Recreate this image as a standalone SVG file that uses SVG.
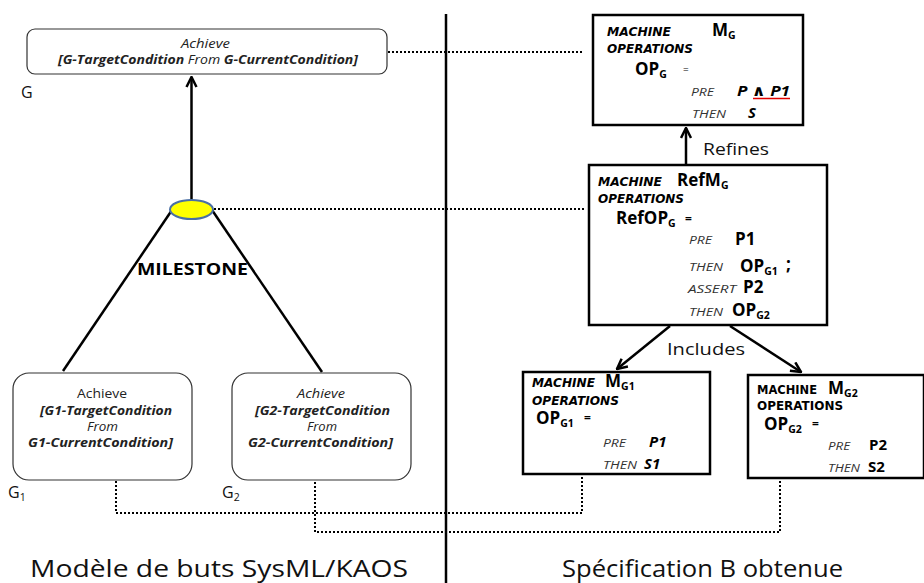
<svg xmlns="http://www.w3.org/2000/svg" width="924" height="583" viewBox="0 0 924 583">
  <style>
    text { font-family: "Open Sans", "DejaVu Sans", sans-serif; fill: #000; }
    .goal { fill: #fff; stroke: #333; stroke-width: 1.2; }
    .mach { fill: #fff; stroke: #000; stroke-width: 2.5; }
    .kw { font-family: "DejaVu Sans", sans-serif; font-size: 11.5px; font-weight: bold; font-style: italic; }
    .kwu { font-family: "DejaVu Sans", sans-serif; font-size: 11.5px; font-weight: bold; }
    .sm { font-size: 11px; font-style: italic; fill: #333; }
    .big { font-size: 17px; font-weight: bold; }
    .val { font-size: 15px; font-weight: bold; }
    .sub { font-size: 10.5px; font-weight: bold; font-style: normal; }
    .gt { font-size: 12px; fill: #222; }
    .bi { font-weight: bold; font-style: italic; }
    .it { font-style: italic; }
    .line { stroke: #000; stroke-width: 2.5; fill: none; }
    .dot { stroke: #000; stroke-width: 2; stroke-dasharray: 2 2; fill: none; }
    .cap { font-size: 24px; fill: #111; }
    .lbl { font-size: 16px; fill: #111; }
  </style>
  <defs>
    <marker id="arr" viewBox="0 0 10 10" refX="9" refY="5" markerWidth="5" markerHeight="5" orient="auto">
      <path d="M1,1 L9,5 L1,9" fill="none" stroke="#000" stroke-width="2"/>
    </marker>
  </defs>

  <!-- vertical divider between the two halves -->
  <line x1="446" y1="14" x2="446" y2="583" stroke="#000" stroke-width="2.5"/>

  <g id="connectors">
    <line class="line" x1="191.5" y1="200" x2="191.5" y2="77" marker-end="url(#arr)"/>
    <line class="line" x1="172" y1="210" x2="63" y2="371"/>
    <line class="line" x1="212" y1="210" x2="322" y2="372"/>
    <line class="line" x1="686" y1="165" x2="686" y2="128" marker-end="url(#arr)"/>
    <line class="line" x1="670" y1="326" x2="617" y2="369" marker-end="url(#arr)"/>
    <line class="line" x1="730" y1="326" x2="801" y2="372" marker-end="url(#arr)"/>
    <polyline class="dot" points="388,52 584,52"/>
    <polyline class="dot" points="214,209 584,209"/>
    <polyline class="dot" points="116,481 116,513 582,513 582,476"/>
    <polyline class="dot" points="315,478 315,532 780,532 780,481"/>
  </g>

  <g id="goalG">
    <rect class="goal" x="27" y="29" width="360" height="45" rx="8"/>
    <text class="gt it" x="181" y="48" textLength="49" lengthAdjust="spacingAndGlyphs">Achieve</text>
    <text class="gt" x="58" y="64" textLength="300" lengthAdjust="spacingAndGlyphs"><tspan class="bi">[G-TargetCondition</tspan> <tspan class="it">From</tspan> <tspan class="bi">G-CurrentCondition]</tspan></text>
    <text class="lbl" x="21" y="98">G</text>
  </g>

  <g id="milestone">
    <ellipse cx="191.5" cy="209.5" rx="21.5" ry="9.5" fill="#ffff00" stroke="#4a6fa5" stroke-width="2"/>
    <text x="137" y="275" textLength="111" lengthAdjust="spacingAndGlyphs" style="font-size:16.5px;font-weight:bold">MILESTONE</text>
  </g>

  <g id="goalG1">
    <rect class="goal" x="13" y="373" width="179" height="107" rx="16"/>
    <text class="gt" x="77" y="398" textLength="50" lengthAdjust="spacingAndGlyphs">Achieve</text>
    <text class="gt bi" x="40" y="415" textLength="132" lengthAdjust="spacingAndGlyphs">[G1-TargetCondition</text>
    <text class="gt it" x="87" y="431" textLength="31" lengthAdjust="spacingAndGlyphs">From</text>
    <text class="gt bi" x="28" y="447" textLength="145" lengthAdjust="spacingAndGlyphs">G1-CurrentCondition]</text>
    <text class="lbl" x="8" y="498">G<tspan font-size="10.5" dy="3">1</tspan></text>
  </g>

  <g id="goalG2">
    <rect class="goal" x="232" y="373" width="179" height="107" rx="16"/>
    <text class="gt it" x="297" y="398" textLength="48" lengthAdjust="spacingAndGlyphs">Achieve</text>
    <text class="gt bi" x="255" y="415" textLength="135" lengthAdjust="spacingAndGlyphs">[G2-TargetCondition</text>
    <text class="gt it" x="307" y="431" textLength="30" lengthAdjust="spacingAndGlyphs">From</text>
    <text class="gt bi" x="248" y="447" textLength="145" lengthAdjust="spacingAndGlyphs">G2-CurrentCondition]</text>
    <text class="lbl" x="222" y="498">G<tspan font-size="10.5" dy="3">2</tspan></text>
  </g>

  <g id="machineMG">
    <rect class="mach" x="593" y="15" width="210" height="110"/>
    <text class="kw" x="607" y="36" textLength="64" lengthAdjust="spacingAndGlyphs">MACHINE</text>
    <text class="big" x="712" y="36">M<tspan class="sub" dy="3">G</tspan></text>
    <text class="kw" x="607" y="53" textLength="86" lengthAdjust="spacingAndGlyphs">OPERATIONS</text>
    <text class="big" x="635" y="75">OP<tspan class="sub" dy="3">G</tspan></text>
    <text x="683" y="73" style="font-size:10px">=</text>
    <text class="sm" x="691" y="96" textLength="23" lengthAdjust="spacingAndGlyphs">PRE</text>
    <text class="val bi" x="737" y="96" textLength="53" lengthAdjust="spacingAndGlyphs">P ∧ P1</text>
    <line x1="753" y1="98.5" x2="790" y2="98.5" stroke="#e00000" stroke-width="1.5"/>
    <text class="sm" x="692" y="118" textLength="34" lengthAdjust="spacingAndGlyphs">THEN</text>
    <text class="val bi" x="748" y="118">S</text>
  </g>

  <g id="machineRefMG">
    <rect class="mach" x="589" y="165" width="238" height="160"/>
    <text class="kw" x="598" y="186" textLength="64" lengthAdjust="spacingAndGlyphs">MACHINE</text>
    <text class="big" x="677" y="186">RefM<tspan class="sub" dy="3">G</tspan></text>
    <text class="kw" x="598" y="203" textLength="86" lengthAdjust="spacingAndGlyphs">OPERATIONS</text>
    <text class="big" x="616" y="224">RefOP<tspan class="sub" dy="3">G</tspan></text>
    <text x="685" y="223" style="font-size:12px;font-weight:bold">=</text>
    <text class="sm" x="689" y="244" textLength="23" lengthAdjust="spacingAndGlyphs">PRE</text>
    <text class="big" x="735" y="245">P1</text>
    <text class="sm" x="689" y="271" textLength="34" lengthAdjust="spacingAndGlyphs">THEN</text>
    <text class="big" x="740" y="272">OP<tspan class="sub" dy="3">G1</tspan></text>
    <text class="big" x="786" y="270">;</text>
    <text class="sm" x="688" y="293" textLength="48" lengthAdjust="spacingAndGlyphs">ASSERT</text>
    <text class="big" x="743" y="293">P2</text>
    <text class="sm" x="689" y="316" textLength="34" lengthAdjust="spacingAndGlyphs">THEN</text>
    <text class="big" x="732" y="316">OP<tspan class="sub" dy="3">G2</tspan></text>
  </g>

  <g id="relationLabels">
    <text class="lbl" x="703" y="155" textLength="66" lengthAdjust="spacingAndGlyphs">Refines</text>
    <text class="lbl" x="667" y="355" textLength="78" lengthAdjust="spacingAndGlyphs">Includes</text>
  </g>

  <g id="machineMG1">
    <rect class="mach" x="523" y="372" width="187" height="102"/>
    <text class="kw" x="532" y="387" textLength="63" lengthAdjust="spacingAndGlyphs">MACHINE</text>
    <text class="big" x="605" y="387">M<tspan class="sub" dy="3">G1</tspan></text>
    <text class="kw" x="532" y="405" textLength="87" lengthAdjust="spacingAndGlyphs">OPERATIONS</text>
    <text class="big" x="536" y="424">OP<tspan class="sub" dy="3">G1</tspan></text>
    <text x="584" y="422" style="font-size:12px;font-weight:bold">=</text>
    <text class="sm" x="603" y="447" textLength="23" lengthAdjust="spacingAndGlyphs">PRE</text>
    <text class="val bi" x="649" y="447">P1</text>
    <text class="sm" x="603" y="469" textLength="34" lengthAdjust="spacingAndGlyphs">THEN</text>
    <text class="val bi" x="644" y="469">S1</text>
  </g>

  <g id="machineMG2">
    <rect class="mach" x="748" y="375" width="176" height="103"/>
    <text class="kwu" x="757" y="394" textLength="60" lengthAdjust="spacingAndGlyphs">MACHINE</text>
    <text class="big" x="828" y="394">M<tspan class="sub" dy="3">G2</tspan></text>
    <text class="kwu" x="757" y="410" textLength="86" lengthAdjust="spacingAndGlyphs">OPERATIONS</text>
    <text class="big" x="764" y="430">OP<tspan class="sub" dy="3">G2</tspan></text>
    <text x="812" y="428" style="font-size:12px;font-weight:bold">=</text>
    <text class="sm" x="828" y="450" textLength="22" lengthAdjust="spacingAndGlyphs">PRE</text>
    <text class="val" x="869" y="450">P2</text>
    <text class="sm" x="828" y="472" textLength="32" lengthAdjust="spacingAndGlyphs">THEN</text>
    <text class="val" x="868" y="472">S2</text>
  </g>

  <g id="captions">
    <text class="cap" x="30" y="577" textLength="378" lengthAdjust="spacingAndGlyphs">Modèle de buts SysML/KAOS</text>
    <text class="cap" x="562" y="577" textLength="281" lengthAdjust="spacingAndGlyphs">Spécification B obtenue</text>
  </g>
</svg>
